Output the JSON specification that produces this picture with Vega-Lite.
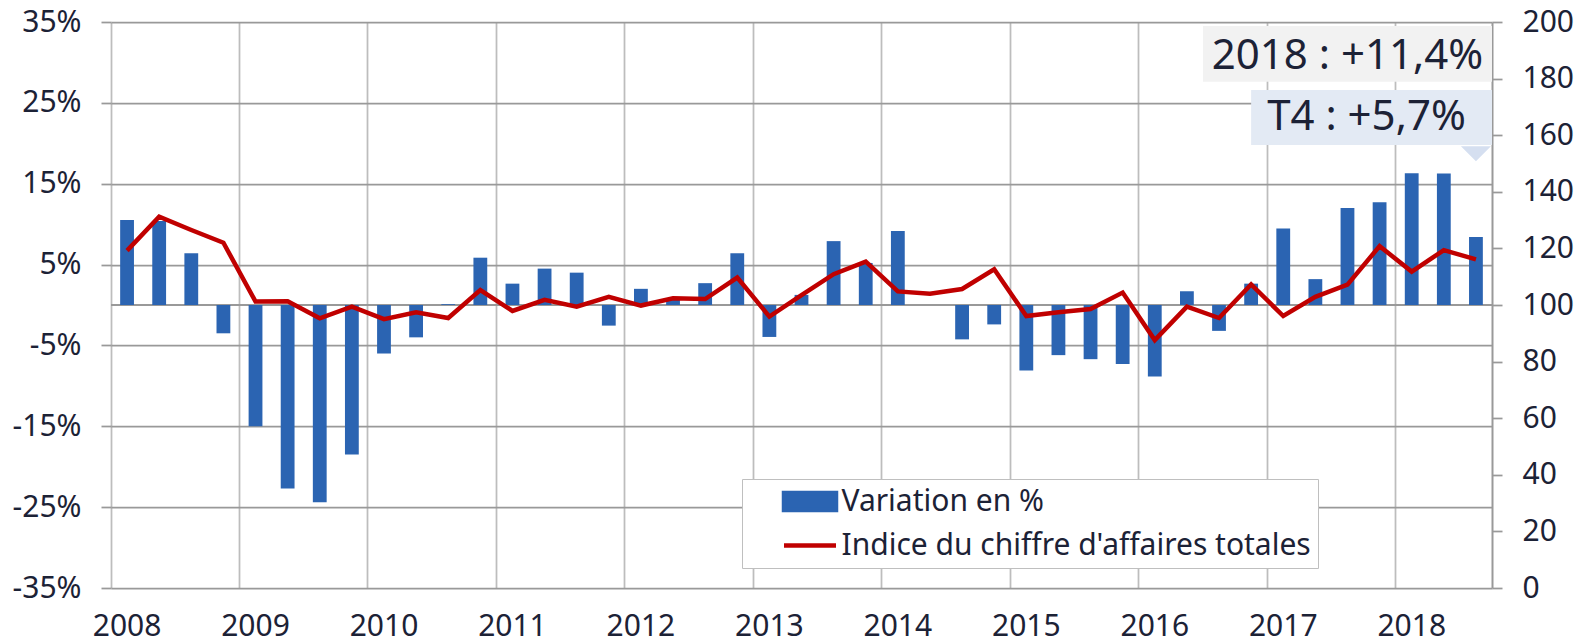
{
  "$schema": "https://vega.github.io/schema/vega-lite/v6.json",
  "width": 1381,
  "height": 566,
  "autosize": {"type": "none"},
  "padding": {"left": 111, "top": 22, "right": 87, "bottom": 55},
  "background": "white",
  "config": {
    "view": {"stroke": null},
    "font": "Noto Sans",
    "axis": {"labelFont": "Noto Sans", "labelFontSize": 30, "labelColor": "#1c2236", "title": null},
    "legend": {"labelFont": "Noto Sans"}
  },
  "data": {
    "values": [
      {"periode": "2008-T1", "variation": 10.5, "indice": 119.2},
      {"periode": "2008-T2", "variation": 10.4, "indice": 131.2},
      {"periode": "2008-T3", "variation": 6.4, "indice": 126.5},
      {"periode": "2008-T4", "variation": -3.5, "indice": 122.0},
      {"periode": "2009-T1", "variation": -15.0, "indice": 101.2},
      {"periode": "2009-T2", "variation": -22.7, "indice": 101.3},
      {"periode": "2009-T3", "variation": -24.4, "indice": 95.3},
      {"periode": "2009-T4", "variation": -18.5, "indice": 99.4},
      {"periode": "2010-T1", "variation": -6.0, "indice": 95.0},
      {"periode": "2010-T2", "variation": -4.0, "indice": 97.4},
      {"periode": "2010-T3", "variation": 0.1, "indice": 95.4},
      {"periode": "2010-T4", "variation": 5.85, "indice": 105.3},
      {"periode": "2011-T1", "variation": 2.64, "indice": 97.9},
      {"periode": "2011-T2", "variation": 4.5, "indice": 101.8},
      {"periode": "2011-T3", "variation": 4.0, "indice": 99.4},
      {"periode": "2011-T4", "variation": -2.55, "indice": 102.9},
      {"periode": "2012-T1", "variation": 2.0, "indice": 99.8},
      {"periode": "2012-T2", "variation": 0.75, "indice": 102.4},
      {"periode": "2012-T3", "variation": 2.7, "indice": 102.1},
      {"periode": "2012-T4", "variation": 6.4, "indice": 109.7},
      {"periode": "2013-T1", "variation": -3.95, "indice": 95.9},
      {"periode": "2013-T2", "variation": 1.25, "indice": 103.5},
      {"periode": "2013-T3", "variation": 7.9, "indice": 110.9},
      {"periode": "2013-T4", "variation": 5.2, "indice": 115.3},
      {"periode": "2014-T1", "variation": 9.15, "indice": 104.8},
      {"periode": "2014-T2", "variation": 0.0, "indice": 104.0},
      {"periode": "2014-T3", "variation": -4.25, "indice": 105.65},
      {"periode": "2014-T4", "variation": -2.4, "indice": 112.6},
      {"periode": "2015-T1", "variation": -8.1, "indice": 96.1},
      {"periode": "2015-T2", "variation": -6.2, "indice": 97.4},
      {"periode": "2015-T3", "variation": -6.7, "indice": 98.6},
      {"periode": "2015-T4", "variation": -7.3, "indice": 104.4},
      {"periode": "2016-T1", "variation": -8.85, "indice": 87.6},
      {"periode": "2016-T2", "variation": 1.7, "indice": 99.4},
      {"periode": "2016-T3", "variation": -3.2, "indice": 95.4},
      {"periode": "2016-T4", "variation": 2.64, "indice": 107.3},
      {"periode": "2017-T1", "variation": 9.45, "indice": 96.1},
      {"periode": "2017-T2", "variation": 3.2, "indice": 102.9},
      {"periode": "2017-T3", "variation": 12.0, "indice": 107.2},
      {"periode": "2017-T4", "variation": 12.7, "indice": 120.8},
      {"periode": "2018-T1", "variation": 16.3, "indice": 111.8},
      {"periode": "2018-T2", "variation": 16.25, "indice": 119.4},
      {"periode": "2018-T3", "variation": 8.4, "indice": 116.1}
    ]
  },
  "encoding": {
    "x": {
      "field": "periode",
      "type": "ordinal",
      "scale": {"paddingInner": 0, "paddingOuter": 0},
      "axis": {
        "values": ["2008-T1", "2009-T1", "2010-T1", "2011-T1", "2012-T1", "2013-T1", "2014-T1", "2015-T1", "2016-T1", "2017-T1", "2018-T1"],
        "labelExpr": "slice(datum.value, 0, 4)",
        "bandPosition": 0,
        "labelOffset": 0,
        "labelAlign": "center",
        "labelAngle": 0,
        "labelPadding": 23,
        "grid": true,
        "gridColor": "#bdbdbd",
        "gridWidth": 1.75,
        "ticks": false,
        "domain": false
      }
    }
  },
  "layer": [
    {
      "layer": [
        {
          "data": {"values": [{}]},
          "mark": {"type": "rule", "color": "#999999", "strokeWidth": 2},
          "encoding": {
            "x": null,
            "y": {"datum": 0, "type": "quantitative"}
          }
        },
        {
          "mark": {"type": "bar", "width": {"band": 0.43}},
          "encoding": {
            "y": {
              "field": "variation",
              "type": "quantitative",
              "scale": {"domain": [-35, 35], "nice": false, "zero": false},
              "axis": {
                "values": [-35, -25, -15, -5, 5, 15, 25, 35],
                "labelExpr": "datum.value + '%'",
                "grid": true,
                "gridColor": "#999999",
                "gridWidth": 1.75,
                "tickColor": "#999999",
                "tickWidth": 1.75,
                "tickSize": 10,
                "domain": false,
                "labelPadding": 20
              }
            },
            "color": {
              "datum": "Variation en %",
              "type": "nominal",
              "scale": {"domain": ["Variation en %", "Indice du chiffre d'affaires totales"], "range": ["#2b64b2", "#c00000"]},
              "legend": {
                "title": null,
                "orient": "none",
                "legendX": 631,
                "legendY": 457,
                "padding": 7,
                "fillColor": "white",
                "strokeColor": "#bfbfbf",
                "symbolSize": 676,
                "symbolStrokeWidth": 4.5,
                "symbolOffset": 45.5,
                "labelOffset": 16,
                "rowPadding": 11,
                "labelFontSize": 30,
                "labelColor": "#1c2236",
                "labelLimit": 1000,
                "encode": {
                  "symbols": {
                    "update": {
                      "shape": {"signal": "datum.value === 'Variation en %' ? 'M-2,-0.65H2V0.65H-2Z' : 'M-2,0H2'"},
                      "fill": {"signal": "datum.value === 'Variation en %' ? '#2b64b2' : 'transparent'"},
                      "stroke": {"signal": "datum.value === 'Variation en %' ? 'transparent' : '#c00000'"},
                      "strokeWidth": {"value": 4.5},
                      "opacity": {"value": 1}
                    }
                  }
                }
              }
            }
          }
        },
        {
          "data": {"values": [{}]},
          "mark": {"type": "rect", "color": "#f2f2f2"},
          "encoding": {
            "x": {"datum": "2016-T3", "type": "ordinal", "bandPosition": 0},
            "x2": {"datum": "2018-T3", "bandPosition": 1},
            "y": {"datum": 34.5, "type": "quantitative"},
            "y2": {"datum": 27.6}
          }
        },
        {
          "data": {"values": [{}]},
          "mark": {"type": "rect", "color": "#e3eaf4"},
          "encoding": {
            "x": {"datum": "2016-T4", "type": "ordinal", "bandPosition": 0.5},
            "x2": {"datum": "2018-T3", "bandPosition": 1},
            "y": {"datum": 26.6, "type": "quantitative"},
            "y2": {"datum": 19.8}
          }
        },
        {
          "data": {"values": [{}]},
          "mark": {"type": "point", "shape": "M-1,-0.5L1,-0.5L0,0.5Z", "size": 900, "filled": true, "opacity": 1, "color": "#d5dff0"},
          "encoding": {
            "x": {"datum": "2018-T3", "type": "ordinal", "bandPosition": 0.5},
            "y": {"datum": 18.7, "type": "quantitative"}
          }
        },
        {
          "data": {"values": [{}]},
          "mark": {"type": "text", "text": "2018 : +11,4%", "font": "Noto Sans", "fontSize": 42, "color": "#1c2236", "align": "center", "baseline": "middle", "dy": 2},
          "encoding": {
            "x": {"datum": "2017-T3", "type": "ordinal", "bandPosition": 0.5},
            "y": {"datum": 31.1, "type": "quantitative"}
          }
        },
        {
          "data": {"values": [{}]},
          "mark": {"type": "text", "text": "T4 : +5,7%", "font": "Noto Sans", "fontSize": 42, "color": "#1c2236", "align": "left", "baseline": "middle", "dx": 16},
          "encoding": {
            "x": {"datum": "2016-T4", "type": "ordinal", "bandPosition": 0.5},
            "y": {"datum": 23.2, "type": "quantitative"}
          }
        }
      ]
    },
    {
      "mark": {"type": "line", "strokeWidth": 4.5},
      "encoding": {
        "x": {"field": "periode", "type": "ordinal", "bandPosition": 0.5},
        "y": {
          "field": "indice",
          "type": "quantitative",
          "scale": {"domain": [0, 200], "nice": false},
          "axis": {
            "orient": "right",
            "values": [0, 20, 40, 60, 80, 100, 120, 140, 160, 180, 200],
            "grid": false,
            "domain": true,
            "domainColor": "#999999",
            "domainWidth": 2,
            "tickColor": "#999999",
            "tickWidth": 1.75,
            "tickSize": 10,
            "labelPadding": 20
          }
        },
        "color": {"datum": "Indice du chiffre d'affaires totales", "type": "nominal"}
      }
    }
  ],
  "resolve": {"scale": {"y": "independent"}}
}
